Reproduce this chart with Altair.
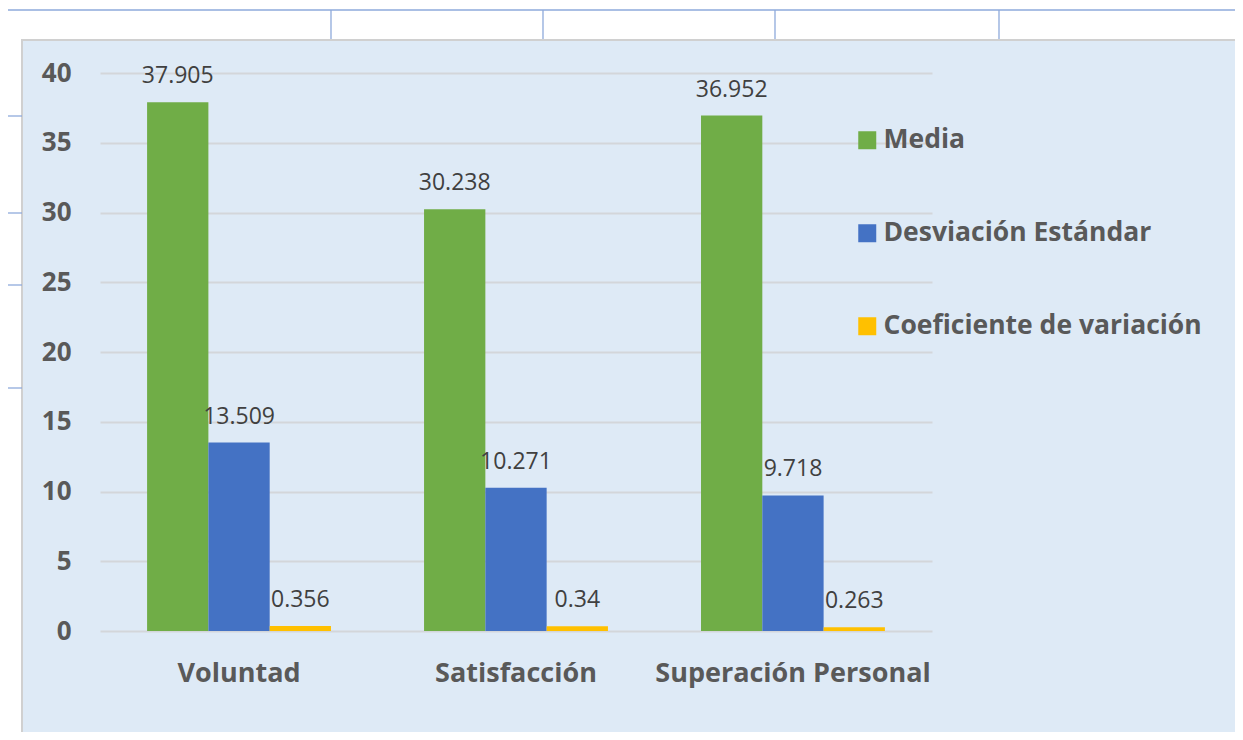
import altair as alt
import pandas as pd

categories = ["Voluntad", "Satisfacción", "Superación Personal"]
series = ["Media", "Desviación Estándar", "Coeficiente de variación"]
media = [37.905, 30.238, 36.952]
desviacion = [13.509, 10.271, 9.718]
coeficiente = [0.356, 0.34, 0.263]
label_media = ["37.905", "30.238", "36.952"]
label_desviacion = ["13.509", "10.271", "9.718"]
label_coeficiente = ["0.356", "0.34", "0.263"]
colors = ["#70AD47", "#4472C4", "#FFC000"]
y_ticks = [0, 5, 10, 15, 20, 25, 30, 35, 40]

rows = []
for vals, labs, s in [(media, label_media, series[0]),
                      (desviacion, label_desviacion, series[1]),
                      (coeficiente, label_coeficiente, series[2])]:
    for c, v, l in zip(categories, vals, labs):
        rows.append({"categoria": c, "serie": s, "valor": v, "etiqueta": l})
df = pd.DataFrame(rows)

W, H = 832, 558
PAD_L, PAD_T = 92, 65
TOTAL_W, TOTAL_H = 1227, 724

FONT = "Open Sans"
PANEL = "#DEEAF6"
CELL = "#8EAADB"

x_enc = alt.X("categoria:N", sort=categories, title=None,
              scale=alt.Scale(paddingInner=0.336, paddingOuter=0.17),
              axis=alt.Axis(labelAngle=0, labelFontSize=27, labelFontWeight="bold",
                            labelColor="#595959", labelFont=FONT, labelPadding=29,
                            labelLimit=0, domain=False, ticks=False, grid=False))
xoff = alt.XOffset("serie:N", sort=series,
                   scale=alt.Scale(paddingInner=0, paddingOuter=0))
y_enc = alt.Y("valor:Q", title=None,
              scale=alt.Scale(domain=[0, 40], nice=False),
              axis=alt.Axis(values=y_ticks, labelFontSize=26, labelFontWeight="bold",
                            labelColor="#595959", labelFont=FONT, labelPadding=29,
                            domain=False, ticks=False, grid=True,
                            gridColor="#D3D6DA", gridWidth=2))

bars = alt.Chart(df).mark_bar().encode(
    x=x_enc, xOffset=xoff, y=y_enc,
    color=alt.Color("serie:N", sort=series,
                    scale=alt.Scale(domain=series, range=colors),
                    legend=alt.Legend(title=None, orient="none", legendX=754, legendY=54,
                                      symbolType="square", symbolSize=324,
                                      symbolStrokeWidth=0, labelFontSize=26.5,
                                      labelFontWeight="bold", labelColor="#595959",
                                      labelFont=FONT, labelOffset=3, rowPadding=66,
                                      padding=0, labelLimit=400)),
)

texts = alt.Chart(df).mark_text(baseline="alphabetic", dy=-19, fontSize=23,
                                 font=FONT, color="#404040").encode(
    x=alt.X("categoria:N", sort=categories), xOffset=xoff,
    y=alt.Y("valor:Q"), text="etiqueta:N",
)

# decorative: white spreadsheet strip above / left of the chart panel
one = alt.Data(values=[{}])
strip_top = alt.Chart(one).mark_rect(color="white").encode(
    x=alt.value(-PAD_L), x2=alt.value(TOTAL_W - PAD_L),
    y=alt.value(-PAD_T), y2=alt.value(-33))
strip_left = alt.Chart(one).mark_rect(color="white").encode(
    x=alt.value(-PAD_L), x2=alt.value(-78),
    y=alt.value(-PAD_T), y2=alt.value(TOTAL_H - PAD_T))
border = alt.Chart(one).mark_rect(fillOpacity=0, stroke="#D0D0D0", strokeWidth=2).encode(
    x=alt.value(-78), x2=alt.value(1160),
    y=alt.value(-33), y2=alt.value(700))

cell_lines = pd.DataFrame({
    "x": [-93, 231, 443, 675, 899, -93, -93, -93, -93],
    "x2": [1140, 231, 443, 675, 899, -78, -78, -78, -78],
    "y": [-63, -63, -63, -63, -63, 43, 140, 212, 315],
    "y2": [-63, -34, -34, -34, -34, 43, 140, 212, 315],
})
cells = alt.Chart(cell_lines).mark_rule(color=CELL, strokeWidth=1.3).encode(
    x=alt.X("x:Q", scale=None), x2="x2:Q",
    y=alt.Y("y:Q", scale=None), y2="y2:Q")

chart = alt.layer(bars, texts, strip_top, strip_left, border, cells).resolve_scale(
    x="shared", y="shared"
).properties(
    width=W, height=H,
    autosize=alt.AutoSizeParams(type="none"),
    padding={"left": PAD_L, "top": PAD_T,
             "right": TOTAL_W - PAD_L - W, "bottom": TOTAL_H - PAD_T - H},
    background=PANEL,
).configure_view(stroke=None)

chart.save("out.html", embed_options={"renderer": "svg", "actions": False})
